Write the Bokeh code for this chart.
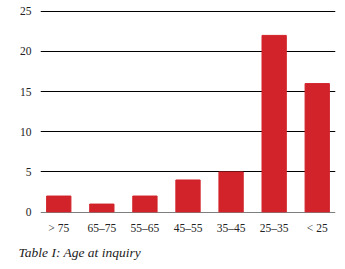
from bokeh.plotting import figure
from bokeh.models import Range1d, FixedTicker, Title
from bokeh.embed import file_html
from bokeh.resources import INLINE

categories = ["> 75", "65–75", "55–65", "45–55", "35–45", "25–35", "< 25"]
counts = [2, 1, 2, 4, 5, 22, 16]
y_ticks = [0, 5, 10, 15, 20, 25]

xs = list(range(len(categories)))

p = figure(width=338, height=265, output_backend="svg", toolbar_location=None,
           x_range=Range1d(-0.424, len(categories) - 1 + 0.424), y_range=Range1d(-0.05, 25.1),
           min_border_left=40, min_border_right=3, min_border_top=10, min_border_bottom=53)
p.outline_line_color = None
p.background_fill_color = "white"
p.border_fill_color = "white"

p.vbar(x=xs, top=counts, width=0.564, color="#D2232A")

p.xaxis.ticker = FixedTicker(ticks=xs)
p.xaxis.major_label_overrides = {i: c for i, c in enumerate(categories)}
p.yaxis.ticker = FixedTicker(ticks=y_ticks)

for ax in (p.xaxis[0], p.yaxis[0]):
    ax.axis_line_color = None
    ax.major_tick_line_color = None
    ax.minor_tick_line_color = None
    ax.major_tick_out = 0
    ax.major_tick_in = 0
    ax.major_label_text_font = "Liberation Serif"
    ax.major_label_text_font_size = "11.5px"
    ax.major_label_text_color = "#222222"
p.xaxis.major_label_standoff = 9
p.yaxis.major_label_standoff = 9

p.xgrid.grid_line_color = None
p.ygrid.ticker = FixedTicker(ticks=y_ticks)
p.ygrid.grid_line_color = "black"
p.ygrid.grid_line_width = 1
p.ygrid.grid_line_alpha = 1

cap = Title(text="Table I: Age at inquiry", align="left", text_font="Liberation Serif",
            text_font_style="italic", text_font_size="13.5px", text_color="#222222",
            offset=-22, standoff=12)
p.add_layout(cap, "below")

open("out.html", "w").write(file_html(p, INLINE))
